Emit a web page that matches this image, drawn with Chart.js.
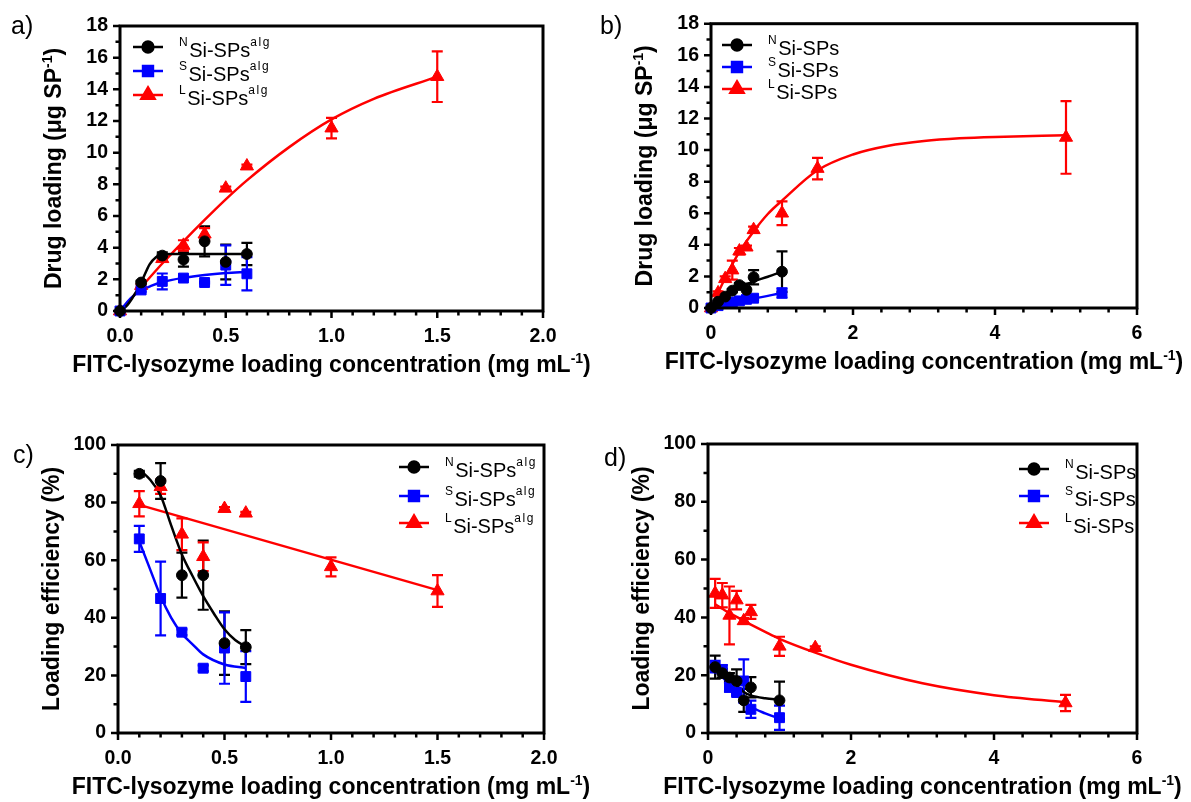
<!DOCTYPE html>
<html>
<head>
<meta charset="utf-8">
<title>FITC-lysozyme loading</title>
<script src="https://cdn.jsdelivr.net/npm/chart.js@4.4.0/dist/chart.umd.min.js"></script>
<style>
  html, body { margin: 0; padding: 0; background: #fff; }
  body { width: 1191px; height: 802px; position: relative; overflow: hidden; }
  canvas { position: absolute; }
</style>
</head>
<body>
<canvas id="ca" width="595" height="400" style="left:0;top:0"></canvas>
<canvas id="cb" width="596" height="400" style="left:595px;top:0"></canvas>
<canvas id="cc" width="595" height="402" style="left:0;top:400px"></canvas>
<canvas id="cd" width="596" height="402" style="left:595px;top:400px"></canvas>

<script type="text/javascript">
// ---- a) drug loading, alginate coated particles
var concA  = [0, 0.1, 0.2, 0.3, 0.4, 0.5, 0.6];
var concAL = [0, 0.1, 0.2, 0.3, 0.4, 0.5, 0.6, 1.0, 1.5];
var loadNalg    = [0, 1.8, 3.5, 3.25, 4.4, 3.1, 3.6];
var loadNalgErr = [0, 0.1, 0.2, 0.45, 0.95, 1.1, 0.7];
var loadSalg    = [0, 1.33, 1.87, 2.08, 1.8, 2.9, 2.35];
var loadSalgErr = [0, 0.1, 0.5, 0.1, 0.05, 1.25, 1.05];
var loadLalg    = [0, 1.6, 3.3, 4.14, 4.85, 7.75, 9.15, 11.55, 14.8];
var loadLalgErr = [0, 0.1, 0.1, 0.33, 0.38, 0.1, 0.1, 0.65, 1.6];
// fitted curves
var fitANx = [0, 0.03, 0.06, 0.1, 0.14, 0.17, 0.2, 0.25, 0.3, 0.4, 0.5, 0.6];
var fitANy = [0, 0.3, 0.85, 1.8, 2.95, 3.4, 3.58, 3.6, 3.6, 3.6, 3.6, 3.6];
var fitASx = [0, 0.05, 0.1, 0.15, 0.2, 0.3, 0.4, 0.5, 0.6];
var fitASy = [0, 0.8, 1.3, 1.6, 1.83, 2.1, 2.28, 2.4, 2.47];
var fitALx = [0, 0.1, 0.2, 0.3, 0.4, 0.5, 0.6, 0.8, 1.0, 1.2, 1.5];
var fitALy = [0, 1.5, 3.0, 4.4, 5.75, 7.05, 8.25, 10.35, 12.1, 13.4, 14.8];

// ---- b) drug loading, bare particles
var concB  = [0, 0.1, 0.2, 0.3, 0.4, 0.5, 0.6, 1.0];
var concBL = [0, 0.1, 0.2, 0.3, 0.4, 0.5, 0.6, 1.0, 1.5, 5.0];
var loadN    = [0, 0.4, 0.72, 1.1, 1.45, 1.15, 1.95, 2.3];
var loadNErr = [0, 0.05, 0.1, 0.1, 0.15, 0.4, 0.45, 1.28];
var loadS    = [0, 0.15, 0.3, 0.38, 0.45, 0.55, 0.62, 0.95];
var loadSErr = [0, 0.03, 0.05, 0.05, 0.05, 0.15, 0.1, 0.3];
var loadL    = [0, 0.95, 1.85, 2.4, 3.6, 3.85, 4.95, 6.0, 8.83, 10.8];
var loadLErr = [0, 0.1, 0.15, 0.6, 0.2, 0.1, 0.2, 0.75, 0.68, 2.3];
var fitBNx = [0, 0.1, 0.2, 0.3, 0.4, 0.5, 0.6, 0.8, 1.0];
var fitBNy = [0, 0.38, 0.72, 1.06, 1.35, 1.5, 1.68, 1.98, 2.3];
var fitBSx = [0, 0.2, 0.4, 0.6, 1.0];
var fitBSy = [0, 0.25, 0.45, 0.6, 0.95];
var fitBLx = [0, 0.2, 0.4, 0.6, 0.8, 1.0, 1.5, 2.0, 2.5, 3.0, 3.5, 4.0, 5.0];
var fitBLy = [0, 1.9, 3.55, 4.85, 5.95, 6.8, 8.72, 9.72, 10.27, 10.57, 10.74, 10.83, 10.93];

// ---- c) loading efficiency, alginate coated
var concC  = [0.1, 0.2, 0.3, 0.4, 0.5, 0.6];
var concCL = [0.1, 0.2, 0.3, 0.4, 0.5, 0.6, 1.0, 1.5];
var effNalg    = [90, 87.5, 54.8, 54.8, 31.2, 29.8];
var effNalgErr = [1, 6.2, 7.8, 12, 11, 5.9];
var effSalg    = [67.4, 46.7, 35, 22.5, 29.5, 19.6];
var effSalgErr = [4.5, 12.8, 1, 1, 12.4, 8.8];
var effLalg    = [79.6, 85.5, 69, 61.2, 77.9, 76.3, 57.7, 49.3];
var effLalgErr = [4.4, 2.5, 5.5, 5, 0.5, 0.5, 3.3, 5.5];
var fitCNx = [0.1, 0.15, 0.2, 0.25, 0.3, 0.35, 0.4, 0.45, 0.5, 0.55, 0.6];
var fitCNy = [91.5, 88, 82.5, 72, 62, 54.5, 47.5, 41.5, 36, 32.3, 30];
var fitCSx = [0.1, 0.15, 0.2, 0.25, 0.3, 0.35, 0.4, 0.5, 0.6];
var fitCSy = [66.5, 57, 47.5, 40, 34.5, 30.8, 27.3, 23.8, 22.6];
var fitCLx = [0.1, 1.5];
var fitCLy = [79.2, 49.6];

// ---- d) loading efficiency, bare particles
var concD  = [0.1, 0.2, 0.3, 0.4, 0.5, 0.6, 1.0];
var concDL = [0.1, 0.2, 0.3, 0.4, 0.5, 0.6, 1.0, 1.5, 5.0];
var effN    = [22.8, 20.7, 19.2, 18, 11.3, 15.8, 11.3];
var effNErr = [4, 1.5, 1.5, 4, 4, 3.5, 6.5];
var effS    = [23, 22, 15.8, 14, 18, 8.2, 5.3];
var effSErr = [2, 1.5, 1.5, 1, 7.5, 3, 4.2];
var effL    = [48.3, 47.7, 40.7, 46, 38.8, 41.9, 30, 29.5, 10.4];
var effLErr = [5, 4.2, 10, 3.2, 1, 2.4, 3.3, 0.5, 2.8];
var fitDNx = [0.1, 0.2, 0.3, 0.4, 0.5, 0.6, 0.8, 1.0];
var fitDNy = [22.5, 20.8, 18.8, 16.5, 14.2, 13, 12, 11.5];
var fitDSx = [0.1, 0.2, 0.3, 0.4, 0.5, 0.6, 0.8, 1.0];
var fitDSy = [22.5, 19.5, 16.6, 13.9, 11.4, 9.2, 6.8, 5.0];
var fitDLx = [0.1, 0.2, 0.3, 0.4, 0.5, 0.6, 0.8, 1.0, 1.5, 2.0, 3.0, 4.0, 5.0];
var fitDLy = [44.5, 43, 41.5, 40.2, 38.8, 37.5, 35, 32.6, 27.8, 23.6, 17.2, 13.1, 10.7];

// legend names: [text, superscript?]
var nameNalg = [['N', 1], ['Si-SPs', 0], ['alg', 1]];
var nameSalg = [['S', 1], ['Si-SPs', 0], ['alg', 1]];
var nameLalg = [['L', 1], ['Si-SPs', 0], ['alg', 1]];
var nameN = [['N', 1], ['Si-SPs', 0]];
var nameS = [['S', 1], ['Si-SPs', 0]];
var nameL = [['L', 1], ['Si-SPs', 0]];

var xTitle = [['FITC-lysozyme loading concentration (mg mL', 0], ['-1', 1], [')', 0]];
var yTitleLoad = [['Drug loading (\u03bcg SP', 0], ['-1', 1], [')', 0]];
var yTitleEff = [['Loading efficiency (%)', 0]];

var BLACK = '#000000', BLUE = '#0000ff', RED = '#ff0000';
var FONT = '"Liberation Sans", Arial, sans-serif';

var panels = [
	{
		canvas: 'ca', label: 'a)', labelX: 11, labelY: 34,
		area: { left: 120, top: 26, right: 543, bottom: 311 },
		x: { min: 0, max: 2, step: 0.5, minor: 0.1, dec: 1 },
		y: { min: 0, max: 18, step: 2, minor: 1 },
		yTitle: yTitleLoad,
		legend: { x: 148, rows: [47, 71, 95], textX: 179 },
		series: [
			{ name: nameNalg, color: BLACK, style: 'circle', x: concA, y: loadNalg, err: loadNalgErr, fx: fitANx, fy: fitANy },
			{ name: nameSalg, color: BLUE, style: 'rect', x: concA, y: loadSalg, err: loadSalgErr, fx: fitASx, fy: fitASy },
			{ name: nameLalg, color: RED, style: 'triangle', x: concAL, y: loadLalg, err: loadLalgErr, fx: fitALx, fy: fitALy }
		]
	},
	{
		canvas: 'cb', label: 'b)', labelX: 5, labelY: 34,
		area: { left: 116, top: 23, right: 542, bottom: 308 },
		x: { min: 0, max: 6, step: 2, minor: 0.4, dec: 0 },
		y: { min: 0, max: 18, step: 2, minor: 1 },
		yTitle: yTitleLoad,
		legend: { x: 142, rows: [45, 67, 89], textX: 173 },
		series: [
			{ name: nameN, color: BLACK, style: 'circle', x: concB, y: loadN, err: loadNErr, fx: fitBNx, fy: fitBNy },
			{ name: nameS, color: BLUE, style: 'rect', x: concB, y: loadS, err: loadSErr, fx: fitBSx, fy: fitBSy },
			{ name: nameL, color: RED, style: 'triangle', x: concBL, y: loadL, err: loadLErr, fx: fitBLx, fy: fitBLy }
		]
	},
	{
		canvas: 'cc', label: 'c)', labelX: 13, labelY: 63,
		area: { left: 118, top: 45, right: 544, bottom: 333 },
		x: { min: 0, max: 2, step: 0.5, minor: 0.1, dec: 1 },
		y: { min: 0, max: 100, step: 20, minor: 10 },
		yTitle: yTitleEff,
		legend: { x: 414, rows: [67, 96, 123], textX: 445 },
		series: [
			{ name: nameNalg, color: BLACK, style: 'circle', x: concC, y: effNalg, err: effNalgErr, fx: fitCNx, fy: fitCNy },
			{ name: nameSalg, color: BLUE, style: 'rect', x: concC, y: effSalg, err: effSalgErr, fx: fitCSx, fy: fitCSy },
			{ name: nameLalg, color: RED, style: 'triangle', x: concCL, y: effLalg, err: effLalgErr, fx: fitCLx, fy: fitCLy }
		]
	},
	{
		canvas: 'cd', label: 'd)', labelX: 9, labelY: 66,
		area: { left: 113, top: 44, right: 542, bottom: 333 },
		x: { min: 0, max: 6, step: 2, minor: 0.4, dec: 0 },
		y: { min: 0, max: 100, step: 20, minor: 10 },
		yTitle: yTitleEff,
		legend: { x: 439, rows: [69, 96, 123], textX: 470 },
		series: [
			{ name: nameN, color: BLACK, style: 'circle', x: concD, y: effN, err: effNErr, fx: fitDNx, fy: fitDNy },
			{ name: nameS, color: BLUE, style: 'rect', x: concD, y: effS, err: effSErr, fx: fitDSx, fy: fitDSy },
			{ name: nameL, color: RED, style: 'triangle', x: concDL, y: effL, err: effLErr, fx: fitDLx, fy: fitDLy }
		]
	}
];

var markerRadius = { circle: 5.4, rect: 7, triangle: 7.6 };

function pts(xs, ys) {
	return xs.map(function (x, i) { return { x: x, y: ys[i] }; });
}

// text with superscript pieces, y is the baseline
function richText(ctx, parts, x, y, size, weight, align, supSize, supRise, supSpacing) {
	var big = weight + ' ' + size + 'px ' + FONT;
	var small = weight + ' ' + supSize + 'px ' + FONT;
	var w = 0;
	parts.forEach(function (p) {
		ctx.font = p[1] ? small : big;
		ctx.letterSpacing = p[1] ? supSpacing + 'px' : '0px';
		w += ctx.measureText(p[0]).width;
	});
	var cx = align === 'center' ? x - w / 2 : x;
	ctx.textAlign = 'left';
	ctx.textBaseline = 'alphabetic';
	parts.forEach(function (p) {
		ctx.font = p[1] ? small : big;
		ctx.letterSpacing = p[1] ? supSpacing + 'px' : '0px';
		ctx.fillText(p[0], cx, p[1] ? y - supRise : y);
		cx += ctx.measureText(p[0]).width;
	});
	ctx.letterSpacing = '0px';
}

var decor = {
	id: 'decor',
	beforeDatasetsDraw: function (chart) {
		// error bars
		var ctx = chart.ctx, xs = chart.scales.x, ys = chart.scales.y;
		chart.data.datasets.forEach(function (ds) {
			if (!ds.errors) return;
			ctx.save();
			ctx.strokeStyle = ds.borderColor;
			ctx.lineWidth = 2.2;
			ds.data.forEach(function (p, j) {
				var e = ds.errors[j];
				if (!e) return;
				var x = xs.getPixelForValue(p.x);
				var y1 = ys.getPixelForValue(p.y + e);
				var y2 = ys.getPixelForValue(Math.max(p.y - e, ys.min));
				ctx.beginPath();
				ctx.moveTo(x, y1); ctx.lineTo(x, y2);
				ctx.moveTo(x - 5.5, y1); ctx.lineTo(x + 5.5, y1);
				ctx.moveTo(x - 5.5, y2); ctx.lineTo(x + 5.5, y2);
				ctx.stroke();
			});
			ctx.restore();
		});
	},
	afterDraw: function (chart, args, opts) {
		var ctx = chart.ctx, a = chart.chartArea;
		var xs = chart.scales.x, ys = chart.scales.y;
		var p = opts.panel;
		ctx.save();
		ctx.strokeStyle = BLACK;
		ctx.fillStyle = BLACK;

		// ticks, major and minor
		ctx.lineWidth = 2.5;
		ctx.beginPath();
		var n, v, px, major;
		for (n = 0; ; n++) {
			v = p.x.min + n * p.x.minor;
			if (v > p.x.max + 1e-9) break;
			major = Math.abs(v / p.x.step - Math.round(v / p.x.step)) < 1e-6;
			px = xs.getPixelForValue(v);
			ctx.moveTo(px, a.bottom);
			ctx.lineTo(px, a.bottom + (major ? 7 : 4.5));
		}
		for (n = 0; ; n++) {
			v = p.y.min + n * p.y.minor;
			if (v > p.y.max + 1e-9) break;
			major = Math.abs(v / p.y.step - Math.round(v / p.y.step)) < 1e-6;
			px = ys.getPixelForValue(v);
			ctx.moveTo(a.left, px);
			ctx.lineTo(a.left - (major ? 7 : 4.5), px);
		}
		ctx.stroke();

		// plot frame
		ctx.lineWidth = 3;
		ctx.strokeRect(a.left, a.top, a.right - a.left, a.bottom - a.top);

		// axis titles
		richText(ctx, xTitle, (a.left + a.right) / 2, a.bottom + 53 + 8, 23, 'bold', 'center', 14, 9.5, 0);
		ctx.save();
		ctx.translate(a.left - 67, (a.top + a.bottom) / 2);
		ctx.rotate(-Math.PI / 2);
		richText(ctx, p.yTitle, 0, 8, 23, 'bold', 'center', 14, 9.5, 0);
		ctx.restore();

		// panel letter
		ctx.font = '25px ' + FONT;
		ctx.textAlign = 'left';
		ctx.textBaseline = 'alphabetic';
		ctx.fillText(p.label, p.labelX, p.labelY);

		// legend
		p.series.forEach(function (s, i) {
			var ly = p.legend.rows[i], lx = p.legend.x;
			ctx.strokeStyle = s.color;
			ctx.fillStyle = s.color;
			ctx.lineWidth = 2.5;
			ctx.beginPath();
			ctx.moveTo(lx - 15, ly); ctx.lineTo(lx + 15, ly);
			ctx.stroke();
			Chart.helpers.drawPoint(ctx, { pointStyle: s.style, radius: markerRadius[s.style], rotation: 0, borderWidth: 1 }, lx, ly);
			ctx.fillStyle = BLACK;
			richText(ctx, s.name, p.legend.textX, ly + 9.5, 20, 'normal', 'left', 12, 11, 1.5);
		});
		ctx.restore();
	}
};

panels.forEach(function (p) {
	var canvas = document.getElementById(p.canvas);
	var W = canvas.width, H = canvas.height;
	var datasets = [];
	// points first so they sit on top of the curves
	p.series.forEach(function (s) {
		datasets.push({
			data: pts(s.x, s.y),
			errors: s.err,
			showLine: false,
			pointStyle: s.style,
			pointRadius: markerRadius[s.style],
			pointHoverRadius: markerRadius[s.style],
			pointBorderWidth: 1,
			backgroundColor: s.color,
			borderColor: s.color,
			clip: false
		});
	});
	p.series.forEach(function (s) {
		datasets.push({
			data: pts(s.fx, s.fy),
			showLine: true,
			pointRadius: 0,
			borderWidth: 2.5,
			borderColor: s.color,
			backgroundColor: s.color,
			cubicInterpolationMode: 'monotone',
			fill: false,
			clip: false
		});
	});

	new Chart(canvas.getContext('2d'), {
		type: 'scatter',
		data: { datasets: datasets },
		options: {
			responsive: false,
			animation: false,
			events: [],
			layout: { padding: { left: 0, top: p.area.top, right: W - p.area.right, bottom: 0 } },
			plugins: {
				legend: { display: false },
				tooltip: { enabled: false },
				decor: { panel: p }
			},
			scales: {
				x: {
					type: 'linear', min: p.x.min, max: p.x.max,
					border: { display: false },
					grid: { display: false, drawTicks: false },
					ticks: {
						stepSize: p.x.step, padding: 14, color: BLACK,
						font: { family: FONT, size: 19.5, weight: 'bold' },
						callback: function (v) { return v.toFixed(p.x.dec); }
					},
					afterFit: function (sc) { sc.height = H - p.area.bottom; }
				},
				y: {
					type: 'linear', min: p.y.min, max: p.y.max,
					border: { display: false },
					grid: { display: false, drawTicks: false },
					ticks: {
						stepSize: p.y.step, padding: 12, color: BLACK,
						font: { family: FONT, size: 19.5, weight: 'bold' },
						callback: function (v) { return String(v); }
					},
					afterFit: function (sc) { sc.width = p.area.left; }
				}
			}
		},
		plugins: [decor]
	});
});
</script>
</body>
</html>
